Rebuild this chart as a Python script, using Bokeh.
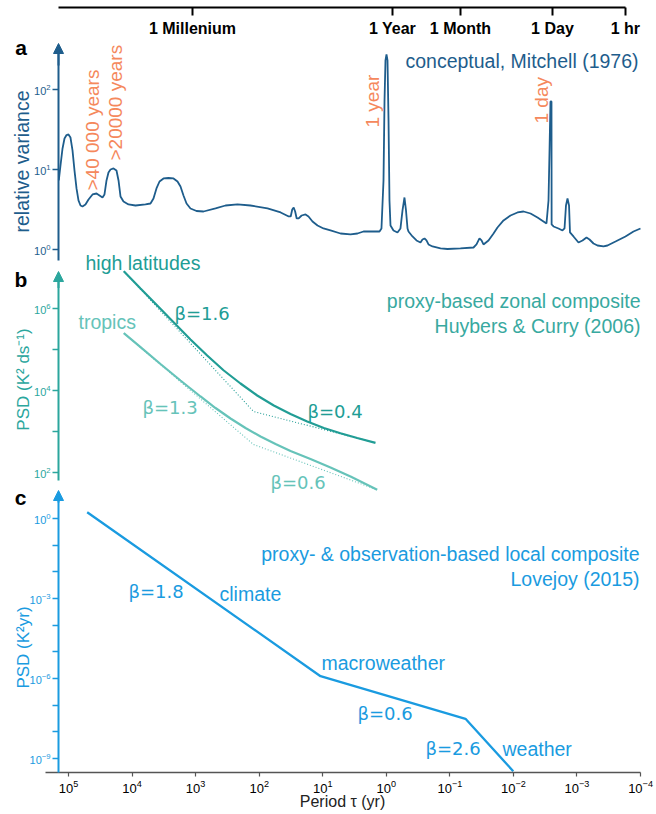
import math
from bokeh.plotting import figure
from bokeh.models import (Range1d, LogScale, LogAxis, FixedTicker, Arrow, NormalHead)
from bokeh.core.properties import value
from bokeh.embed import file_html
from bokeh.resources import INLINE

# ---------------- data ----------------
# Panel a: conceptual spectrum (Mitchell 1976): log10 period (yr), log10 relative variance
mitchell_log_period = [5.153, 5.126, 5.094, 5.063, 5.031, 5.000, 4.969, 4.937, 4.906, 4.874,
                       4.843, 4.811, 4.780, 4.733, 4.685, 4.622, 4.559, 4.512, 4.465, 4.434,
                       4.402, 4.371, 4.339, 4.292, 4.245, 4.213, 4.182, 4.135, 4.056, 3.946,
                       3.789, 3.710, 3.663, 3.616, 3.568, 3.505, 3.427, 3.348, 3.285, 3.238,
                       3.191, 3.143, 3.081, 2.986, 2.876, 2.687, 2.530, 2.341, 2.137, 1.869,
                       1.662, 1.535, 1.504, 1.480, 1.457, 1.434, 1.410, 1.379, 1.332, 1.271,
                       1.224, 1.161, 1.082, 0.988, 0.878, 0.720, 0.563, 0.453, 0.359, 0.248,
                       0.107, 0.076, 0.044, 0.028, 0.013, -0.003, -0.019, -0.035, -0.050, -0.066,
                       -0.113, -0.176, -0.223, -0.255, -0.286, -0.310, -0.334, -0.349, -0.412, -0.475,
                       -0.538, -0.569, -0.601, -0.632, -0.664, -0.727, -0.853, -0.963, -1.167, -1.372,
                       -1.419, -1.466, -1.498, -1.529, -1.608, -1.687, -1.749, -1.844, -1.954, -2.064,
                       -2.159, -2.269, -2.379, -2.473, -2.520, -2.552, -2.568, -2.583, -2.599, -2.601,
                       -2.631, -2.709, -2.772, -2.804, -2.827, -2.851, -2.875, -2.890, -2.945, -3.024,
                       -3.087, -3.150, -3.197, -3.260, -3.323, -3.417, -3.480, -3.606, -3.763, -3.889,
                       -3.999]
mitchell_log_variance = [0.863, 1.050, 1.263, 1.388, 1.431, 1.438, 1.400, 1.238, 0.988, 0.763,
                         0.613, 0.550, 0.538, 0.563, 0.625, 0.688, 0.700, 0.675, 0.650, 0.688,
                         0.863, 0.963, 1.000, 1.013, 0.988, 0.863, 0.663, 0.600, 0.563, 0.550,
                         0.563, 0.575, 0.638, 0.763, 0.850, 0.888, 0.894, 0.888, 0.850, 0.788,
                         0.675, 0.575, 0.513, 0.481, 0.475, 0.513, 0.550, 0.563, 0.550, 0.513,
                         0.463, 0.413, 0.413, 0.500, 0.525, 0.475, 0.388, 0.388, 0.425, 0.438,
                         0.413, 0.350, 0.300, 0.263, 0.238, 0.200, 0.188, 0.200, 0.225, 0.225,
                         0.225, 0.263, 0.863, 1.863, 2.363, 2.438, 2.363, 1.613, 0.613, 0.300,
                         0.238, 0.213, 0.263, 0.488, 0.650, 0.488, 0.263, 0.225, 0.163, 0.113,
                         0.088, 0.125, 0.138, 0.113, 0.063, 0.038, 0.013, 0.006, 0.013, 0.025,
                         0.063, 0.138, 0.113, 0.063, 0.113, 0.200, 0.275, 0.363, 0.425, 0.463,
                         0.475, 0.450, 0.400, 0.350, 0.325, 0.613, 1.238, 1.850, 1.850, 0.313,
                         0.288, 0.263, 0.238, 0.263, 0.550, 0.638, 0.550, 0.213, 0.163, 0.088,
                         0.113, 0.150, 0.125, 0.075, 0.050, 0.038, 0.050, 0.100, 0.163, 0.225,
                         0.263]

# Panel b: Huybers & Curry (2006) zonal composite, log10 period (yr), log10 PSD
highlat_log_period = [4.130, 3.867, 3.604, 3.343, 3.081, 2.818, 2.557, 2.294, 2.031, 1.770,
                      1.507, 1.244, 0.983, 0.721, 0.458, 0.170]
highlat_log_psd = [6.910, 6.488, 6.073, 5.659, 5.244, 4.854, 4.488, 4.171, 3.878, 3.634,
                   3.427, 3.244, 3.085, 2.959, 2.841, 2.724]
highlat_fit_log_period = [4.130, 2.089, 0.170]
highlat_fit_log_psd = [6.910, 3.488, 2.724]

tropics_log_period = [4.130, 3.867, 3.553, 3.238, 2.923, 2.687, 2.451, 2.215, 1.979, 1.743,
                      1.507, 1.193, 0.878, 0.563, 0.143]
tropics_log_psd = [5.398, 5.056, 4.646, 4.244, 3.854, 3.573, 3.317, 3.085, 2.878, 2.695,
                   2.524, 2.329, 2.122, 1.902, 1.578]
tropics_fit_log_period = [4.130, 2.089, 0.143]
tropics_fit_log_psd = [5.398, 2.683, 1.578]

# Panel c: Lovejoy (2015) local composite, log10 period (yr), log10 PSD
lovejoy_log_period = [4.706, 1.035, -1.246, -1.997]
lovejoy_log_psd = [0.236, -5.914, -7.511, -9.476]

# Axes
top_tick_periods = [1120.0, 0.798, 0.0681, 0.00243, 0.000173]
top_tick_labels = ["1 Millenium", "1 Year", "1 Month", "1 Day", "1 hr"]
bottom_tick_periods = [1e5, 1e4, 1e3, 1e2, 1e1, 1e0, 1e-1, 1e-2, 1e-3, 1e-4]
a_ticks = [1e0, 1e1, 1e2]
b_ticks = [1e2, 1e4, 1e6]
b_minor = [1e3, 1e5]
c_ticks = [1e-9, 1e-6, 1e-3, 1e0]
c_minor = [1e-8, 1e-7, 1e-5, 1e-4, 1e-2, 1e-1]

# ---------------- styles ----------------
C_A = "#1e5d8c"
C_OR = "#f5885c"
C_B_AX = "#2ba69d"
C_HL = "#219d95"
C_TR = "#66c3b9"
C_C = "#1a9be0"
SANS = "Liberation Sans"
BETA = "DejaVu Sans"

def e(v):
    return [10 ** t for t in v]

p = figure(width=656, height=814, x_axis_type="log", y_axis_type="log",
           x_range=Range1d(10 ** 6.0699, 10 ** -4.2511),
           y_range=Range1d(10 ** -7.0625, 10 ** 3.1125),
           x_axis_location=None, y_axis_location=None,
           toolbar_location=None, output_backend="svg", min_border=0, title=None)
p.extra_y_ranges = {"b": Range1d(10 ** -6.341, 10 ** 13.512),
                    "c": Range1d(10 ** -11.1, 10 ** 19.425)}
p.extra_y_scales = {"b": LogScale(), "c": LogScale()}
p.outline_line_color = None
p.xgrid.visible = False
p.ygrid.visible = False
p.background_fill_color = "white"
p.border_fill_color = "white"

XAX = 10 ** 5.157  # x position of the vertical axes

# ---------------- axes ----------------
def yaxis(rng, color, ticks, minor, bounds):
    kw = {} if rng == "default" else {"y_range_name": rng}
    ax = LogAxis(fixed_location=XAX, bounds=bounds,
                 ticker=FixedTicker(ticks=ticks, minor_ticks=minor),
                 axis_line_color=color, axis_line_width=2,
                 major_tick_line_color=color, major_tick_line_width=1.5,
                 major_tick_out=6, major_tick_in=0,
                 minor_tick_line_color=color, minor_tick_line_width=1.5,
                 minor_tick_out=6, minor_tick_in=0,
                 major_label_text_color=color, major_label_text_font_size="11px",
                 major_label_text_font=SANS, major_label_standoff=2, **kw)
    p.add_layout(ax, "left")

yaxis("default", C_A, a_ticks, [], (10 ** -0.1375, 10 ** 2.45))
yaxis("b", C_B_AX, b_ticks, b_minor, (10 ** 1.805, 10 ** 6.75))
yaxis("c", C_C, c_ticks, c_minor, (10 ** -9.525, 10 ** 0.8))

for rng, color, y0, y1 in [("default", C_A, 2.3, 2.575), ("b", C_B_AX, 6.5, 6.902), ("c", C_C, 0.6, 1.05)]:
    kw = {} if rng == "default" else {"y_range_name": rng}
    p.add_layout(Arrow(end=NormalHead(size=10, fill_color=color, line_color=color),
                       x_start=XAX, y_start=10 ** y0, x_end=XAX, y_end=10 ** y1,
                       line_color=color, line_width=2, **kw))

top = LogAxis(fixed_location=10 ** 3.019, bounds=(10 ** 5.157, 10 ** -3.766),
              ticker=FixedTicker(ticks=top_tick_periods),
              major_label_overrides=dict(zip(top_tick_periods, top_tick_labels)),
              axis_line_color="black", axis_line_width=2,
              major_tick_line_color="black", major_tick_line_width=2,
              major_tick_out=8, major_tick_in=0, minor_tick_out=0, minor_tick_in=0,
              major_label_text_color="black", major_label_text_font=SANS,
              major_label_text_font_style="bold", major_label_text_font_size="16px",
              major_label_standoff=4)
p.add_layout(top, "below")

bottom = LogAxis(y_range_name="c", fixed_location=10 ** -9.525, bounds=(10 ** 5.362, 10 ** -4.004),
                 ticker=FixedTicker(ticks=bottom_tick_periods),
                 axis_line_color="#555555", axis_line_width=1.5,
                 major_tick_line_color="#555555", major_tick_line_width=1.2,
                 major_tick_out=4, major_tick_in=0, minor_tick_out=0, minor_tick_in=0,
                 major_label_text_color="black", major_label_text_font=SANS,
                 major_label_text_font_size="13px", major_label_standoff=3)
p.add_layout(bottom, "below")

# ---------------- curves ----------------
p.line(e(mitchell_log_period), e(mitchell_log_variance), line_color=C_A, line_width=1.8)

p.line(e(highlat_fit_log_period), e(highlat_fit_log_psd), y_range_name="b",
       line_color=C_HL, line_width=1.1, line_dash="1 2")
p.line(e(tropics_fit_log_period), e(tropics_fit_log_psd), y_range_name="b",
       line_color=C_TR, line_width=1.1, line_dash="1 2")
p.line(e(highlat_log_period), e(highlat_log_psd), y_range_name="b", line_color=C_HL, line_width=2.2)
p.line(e(tropics_log_period), e(tropics_log_psd), y_range_name="b", line_color=C_TR, line_width=2.2)

p.line(e(lovejoy_log_period), e(lovejoy_log_psd), y_range_name="c", line_color=C_C, line_width=2.3)

# ---------------- texts ----------------
def txt(x, y, s, rng, color, size, font=SANS, align="left", angle=0.0, style="normal"):
    kw = {} if rng == "default" else {"y_range_name": rng}
    p.text(x=[10 ** v for v in x], y=[10 ** v for v in y], text=s, text_color=color,
           text_font=value(font), text_font_size=size, text_align=align,
           text_baseline="middle", angle=angle, text_font_style=style, **kw)

R = math.pi / 2
# panel letters
txt([5.747], [2.525], ["a"], "default", "black", "21px", align="center", style="bold")
txt([5.747], [6.707], ["b"], "b", "black", "21px", align="center", style="bold")
txt([5.755], [0.7875], ["c"], "c", "black", "21px", align="center", style="bold")

# panel a
txt([5.724], [1.1], ["relative variance"], "default", C_A, "19.5px", align="center", angle=R)
txt([4.622, 4.260, 0.217, -2.442], [0.7375, 1.1125, 1.525, 1.575],
    [">40 000 years", ">20000 years", "1 year", "1 day"], "default", C_OR, "19px", angle=R)
txt([-3.968], [2.3625], ["conceptual, Mitchell (1976)"], "default", C_A, "19.5px", align="right")

# panel b
txt([5.708], [4.268], ["PSD (K\u00b2 ds\u207b\u00b9)"], "b", C_B_AX, "17px", align="center", angle=R)
txt([4.733], [7.098], ["high latitudes"], "b", C_HL, "19.5px")
txt([4.843], [5.659], ["tropics"], "b", C_TR, "19.5px")
txt([3.332, 1.240], [5.878, 3.488], ["\u03b2=1.6", "\u03b2=0.4"], "b", C_HL, "18px", font=BETA)
txt([3.836, 1.822], [3.585, 1.756], ["\u03b2=1.3", "\u03b2=0.6"], "b", C_TR, "18px", font=BETA)
txt([-3.999, -3.999], [6.171, 5.585], ["proxy-based zonal composite", "Huybers & Curry (2006)"],
    "b", "#38a9a0", "19.5px", align="right")

# panel c
txt([5.708], [-4.8375], ["PSD (K\u00b2yr)"], "c", C_C, "17px", align="center", angle=R)
txt([-3.984, -3.984], [-1.3125, -2.25],
    ["proxy- & observation-based local composite", "Lovejoy (2015)"], "c", C_C, "19.5px", align="right")
txt([2.624, 1.020, -1.828], [-2.8125, -5.4, -8.625], ["climate", "macroweather", "weather"], "c", C_C, "19.5px")
txt([4.056, 0.453, -0.617], [-2.7375, -7.3125, -8.625], ["\u03b2=1.8", "\u03b2=0.6", "\u03b2=2.6"], "c", C_C, "18px", font=BETA)
txt([0.689], [-10.6125], ["Period \u03c4 (yr)"], "c", "#222222", "16px", align="center")

open("out.html", "w").write(file_html(p, INLINE))
